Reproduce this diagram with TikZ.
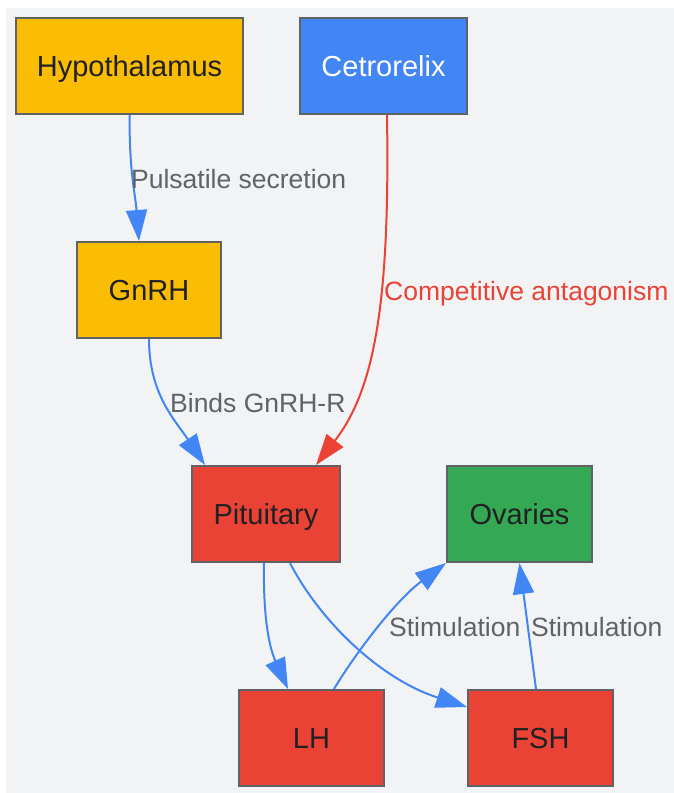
\documentclass[tikz,border=0pt]{standalone}
\usepackage{fontspec}
\setmainfont{Liberation Sans}
\usetikzlibrary{arrows.meta}
\definecolor{bgc}{HTML}{F1F3F4}
\definecolor{gyel}{HTML}{FBBC04}
\definecolor{gblue}{HTML}{4285F4}
\definecolor{gred}{HTML}{EA4335}
\definecolor{ggreen}{HTML}{34A853}
\definecolor{bord}{HTML}{5F6368}
\definecolor{txt}{HTML}{202124}
\definecolor{lbl}{HTML}{5F6368}
\tikzset{
  box/.style={draw=bord, line width=2pt, minimum height=96pt, inner sep=0pt,
    text height=27pt, text depth=5.6pt,
    text=txt, font=\fontsize{29}{34}\selectfont},
  conn/.style={draw=gblue, line width=2pt, -{Triangle[length=31pt,width=21pt]}},
  redconn/.style={draw=gred, line width=2pt, -{Triangle[length=31pt,width=21pt]}},
  elabel/.style={text=lbl, inner sep=0pt, anchor=west, text height=24pt, text depth=6pt,
    font=\fontsize{26.5}{31}\selectfont},
}
\begin{document}
\begin{tikzpicture}[x=1pt,y=-1pt]
\useasboundingbox (0,0) rectangle (674,793);
\fill[bgc] (6,8) rectangle (674,793);
\node[box, fill=gyel, minimum width=227pt] (hyp) at (129.5,66) {Hypothalamus};
\node[box, fill=gblue, minimum width=167pt, text=white] (cet) at (383.5,66) {Cetrorelix};
\node[box, fill=gyel, minimum width=144pt] (gnrh) at (149,290) {GnRH};
\node[box, fill=gred, minimum width=148pt] (pit) at (266,514) {Pituitary};
\node[box, fill=ggreen, minimum width=145pt] (ov) at (519.5,514) {Ovaries};
\node[box, fill=gred, minimum width=145pt] (lh) at (311.5,738) {LH};
\node[box, fill=gred, minimum width=145pt] (fsh) at (540.5,738) {FSH};

\draw[conn] (hyp.south) .. controls +(0,60) and +(-4,-50) .. ([xshift=-10pt]gnrh.north);
\draw[conn] (gnrh.south) .. controls +(0,55) and +(-30,-45) .. ([xshift=-61pt]pit.north);
\draw[redconn] ([xshift=3.5pt]cet.south) .. controls +(3,186) and +(59,-76) .. ([xshift=50pt]pit.north);
\draw[conn] ([xshift=-2pt]pit.south) .. controls +(-1,58) and +(-18,-40) .. ([xshift=-23.5pt]lh.north);
\draw[conn] ([xshift=24pt]pit.south) .. controls +(30,58) and +(-87,-28) .. ([yshift=-18pt]fsh.north west);
\draw[conn] ([xshift=22.5pt]lh.north) .. controls +(21,-35) and +(-51,38) .. (ov.south west);
\draw[conn] ([xshift=-4.5pt]fsh.north) -- (ov.south);

\node[elabel] (l1) at (131,179) {Pulsatile secretion};
\node[elabel] (l2) at (170,403) {Binds GnRH-R};
\node[elabel, text=gred] (l3) at (384,291) {Competitive antagonism};
\node[elabel] (l4) at (389,627) {Stimulation};
\node[elabel] (l5) at (531,627) {Stimulation};
\end{tikzpicture}
\end{document}
